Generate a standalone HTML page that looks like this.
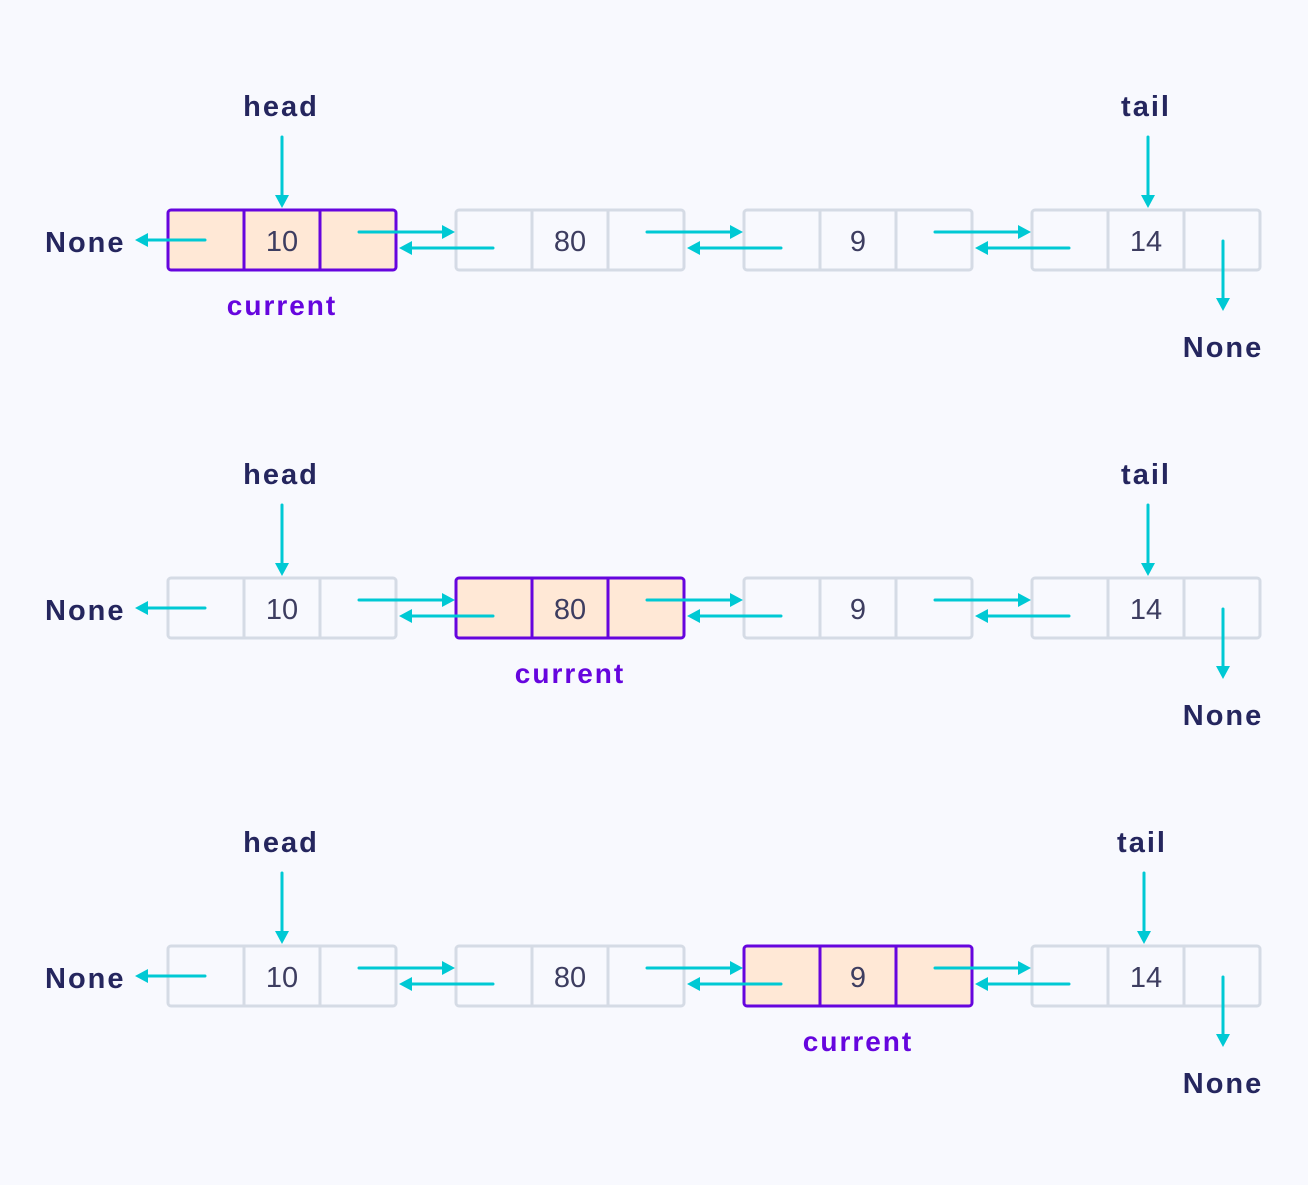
<!DOCTYPE html>
<html><head><meta charset="utf-8"><style>
html,body{margin:0;padding:0;background:#f8f9fe;}
svg{display:block;}
text{font-family:"Liberation Sans",sans-serif;}
.lbl{font-size:29px;fill:#25265e;font-weight:bold;letter-spacing:2px;}
.num{font-size:29px;fill:#3d3d60;text-anchor:middle;}
.cur{font-size:28px;fill:#6605de;text-anchor:middle;font-weight:bold;letter-spacing:2px;}
.n{fill:none;stroke:#d5dbe5;stroke-width:3;}
.h{fill:#ffe8d6;stroke:#6605de;stroke-width:3;}
.hl{stroke:#6605de;stroke-width:3;}
.gl{stroke:#d5dbe5;stroke-width:3;}
.a{stroke:#00c9d4;stroke-width:3;stroke-linecap:round;}
.t{fill:#00c9d4;}
</style></head><body>
<svg width="1308" height="1185" viewBox="0 0 1308 1185" xmlns="http://www.w3.org/2000/svg">
<rect width="1308" height="1185" fill="#f8f9fe"/>
<defs>
<g id="arrows">
  <line class="a" x1="205" y1="240" x2="146" y2="240"/><polygon class="t" points="135,240 148,233 148,247"/>
  <line class="a" x1="359" y1="232" x2="444" y2="232"/><polygon class="t" points="455,232 442,225 442,239"/>
  <line class="a" x1="493" y1="248" x2="410" y2="248"/><polygon class="t" points="399,248 412,241 412,255"/>
  <line class="a" x1="647" y1="232" x2="732" y2="232"/><polygon class="t" points="743,232 730,225 730,239"/>
  <line class="a" x1="781" y1="248" x2="698" y2="248"/><polygon class="t" points="687,248 700,241 700,255"/>
  <line class="a" x1="935" y1="232" x2="1020" y2="232"/><polygon class="t" points="1031,232 1018,225 1018,239"/>
  <line class="a" x1="1069" y1="248" x2="986" y2="248"/><polygon class="t" points="975,248 988,241 988,255"/>
  <line class="a" x1="1223" y1="241" x2="1223" y2="300"/><polygon class="t" points="1223,311 1216,298 1230,298"/>
  <line class="a" x1="282" y1="137" x2="282" y2="197"/><polygon class="t" points="282,208 275,195 289,195"/>
</g>
<g id="common">
  <text class="lbl" x="281" y="116" text-anchor="middle">head</text>
  <text class="lbl" x="45" y="252">None</text>
  <text class="lbl" x="1223" y="357" text-anchor="middle">None</text>
</g>
</defs>

<g>
  <use href="#common"/>
  <text class="lbl" x="1146" y="116" text-anchor="middle">tail</text>
  <line class="a" x1="1148" y1="137" x2="1148" y2="197"/><polygon class="t" points="1148,208 1141,195 1155,195"/>
  <rect class="n" x="456" y="210" width="228" height="60" rx="3"/><line class="gl" x1="532" y1="210" x2="532" y2="270"/><line class="gl" x1="608" y1="210" x2="608" y2="270"/>
  <rect class="n" x="744" y="210" width="228" height="60" rx="3"/><line class="gl" x1="820" y1="210" x2="820" y2="270"/><line class="gl" x1="896" y1="210" x2="896" y2="270"/>
  <rect class="n" x="1032" y="210" width="228" height="60" rx="3"/><line class="gl" x1="1108" y1="210" x2="1108" y2="270"/><line class="gl" x1="1184" y1="210" x2="1184" y2="270"/>
  <rect class="h" x="168" y="210" width="228" height="60" rx="3"/><line class="hl" x1="244" y1="210" x2="244" y2="270"/><line class="hl" x1="320" y1="210" x2="320" y2="270"/>
  <text class="num" x="282" y="251">10</text><text class="num" x="570" y="251">80</text><text class="num" x="858" y="251">9</text><text class="num" x="1146" y="251">14</text>
  <text class="cur" x="282" y="315">current</text>
  <use href="#arrows"/>
</g>

<g transform="translate(0,368)">
  <use href="#common"/>
  <text class="lbl" x="1146" y="116" text-anchor="middle">tail</text>
  <line class="a" x1="1148" y1="137" x2="1148" y2="197"/><polygon class="t" points="1148,208 1141,195 1155,195"/>
  <rect class="n" x="168" y="210" width="228" height="60" rx="3"/><line class="gl" x1="244" y1="210" x2="244" y2="270"/><line class="gl" x1="320" y1="210" x2="320" y2="270"/>
  <rect class="n" x="744" y="210" width="228" height="60" rx="3"/><line class="gl" x1="820" y1="210" x2="820" y2="270"/><line class="gl" x1="896" y1="210" x2="896" y2="270"/>
  <rect class="n" x="1032" y="210" width="228" height="60" rx="3"/><line class="gl" x1="1108" y1="210" x2="1108" y2="270"/><line class="gl" x1="1184" y1="210" x2="1184" y2="270"/>
  <rect class="h" x="456" y="210" width="228" height="60" rx="3"/><line class="hl" x1="532" y1="210" x2="532" y2="270"/><line class="hl" x1="608" y1="210" x2="608" y2="270"/>
  <text class="num" x="282" y="251">10</text><text class="num" x="570" y="251">80</text><text class="num" x="858" y="251">9</text><text class="num" x="1146" y="251">14</text>
  <text class="cur" x="570" y="315">current</text>
  <use href="#arrows"/>
</g>

<g transform="translate(0,736)">
  <use href="#common"/>
  <text class="lbl" x="1142" y="116" text-anchor="middle">tail</text>
  <line class="a" x1="1144" y1="137" x2="1144" y2="197"/><polygon class="t" points="1144,208 1137,195 1151,195"/>
  <rect class="n" x="168" y="210" width="228" height="60" rx="3"/><line class="gl" x1="244" y1="210" x2="244" y2="270"/><line class="gl" x1="320" y1="210" x2="320" y2="270"/>
  <rect class="n" x="456" y="210" width="228" height="60" rx="3"/><line class="gl" x1="532" y1="210" x2="532" y2="270"/><line class="gl" x1="608" y1="210" x2="608" y2="270"/>
  <rect class="n" x="1032" y="210" width="228" height="60" rx="3"/><line class="gl" x1="1108" y1="210" x2="1108" y2="270"/><line class="gl" x1="1184" y1="210" x2="1184" y2="270"/>
  <rect class="h" x="744" y="210" width="228" height="60" rx="3"/><line class="hl" x1="820" y1="210" x2="820" y2="270"/><line class="hl" x1="896" y1="210" x2="896" y2="270"/>
  <text class="num" x="282" y="251">10</text><text class="num" x="570" y="251">80</text><text class="num" x="858" y="251">9</text><text class="num" x="1146" y="251">14</text>
  <text class="cur" x="858" y="315">current</text>
  <use href="#arrows"/>
</g>
</svg>
</body></html>
